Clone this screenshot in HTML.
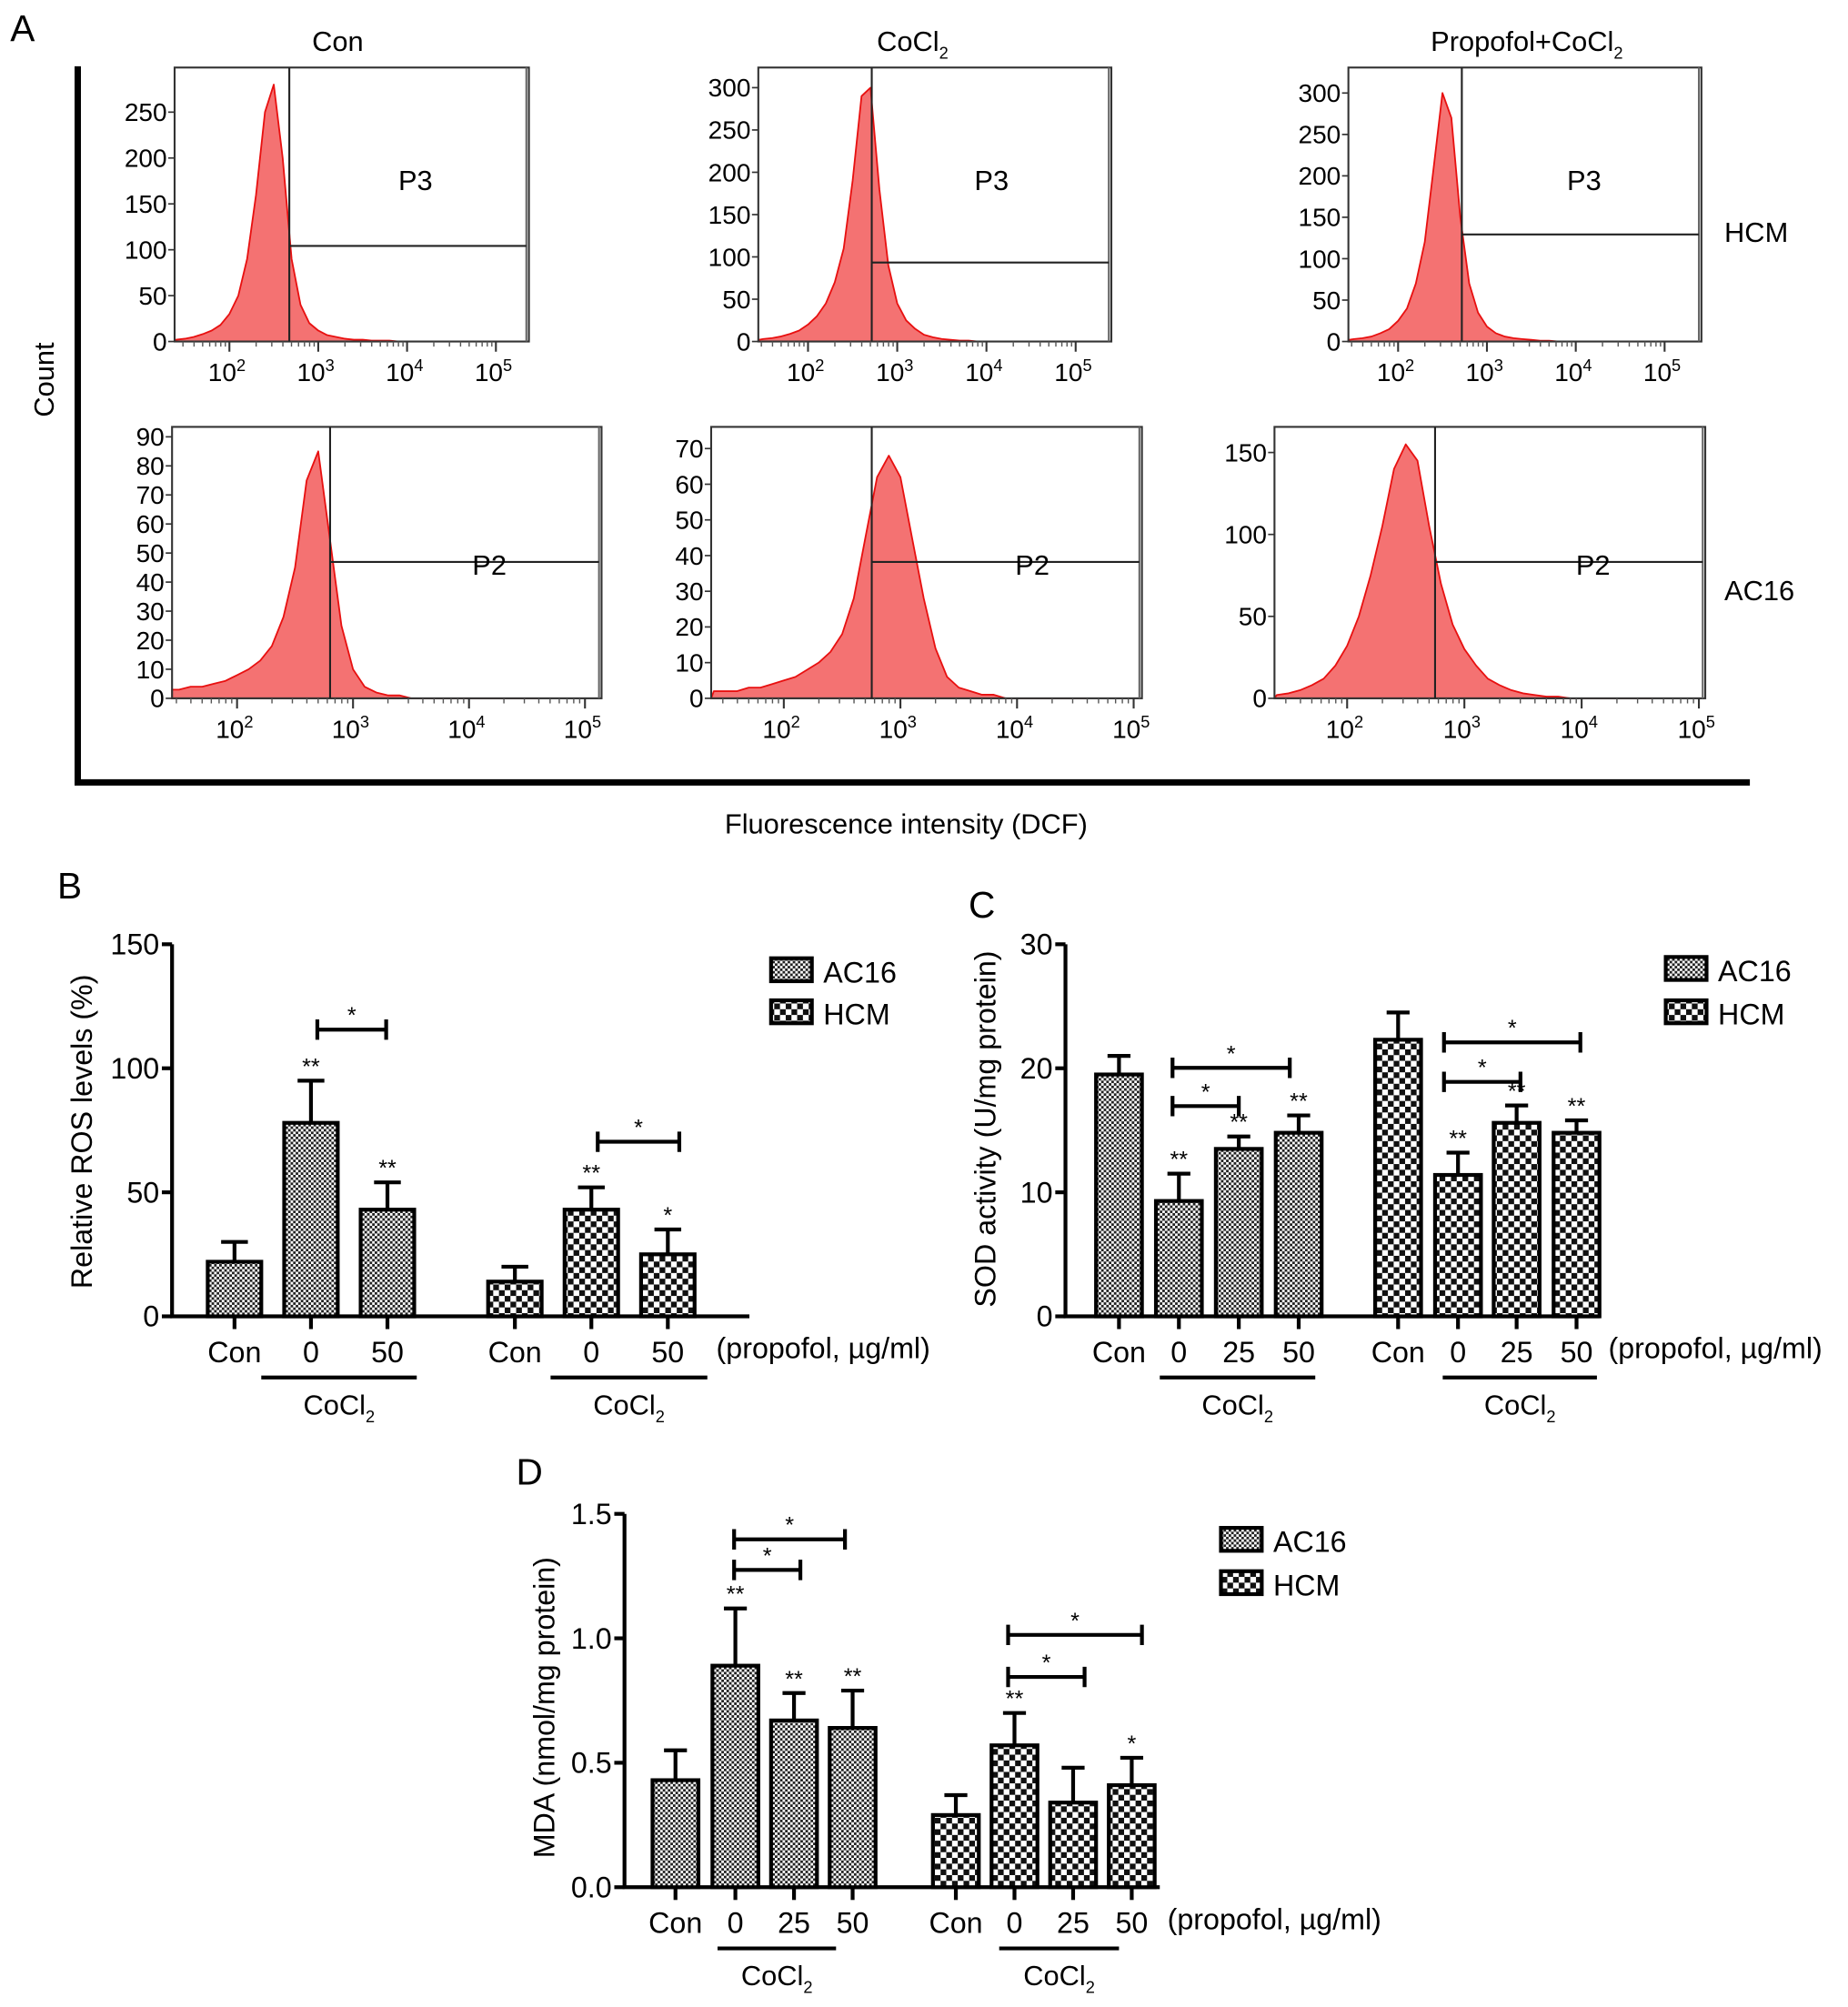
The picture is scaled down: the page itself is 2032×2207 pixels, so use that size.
<!DOCTYPE html>
<html><head><meta charset="utf-8">
<style>
html,body{margin:0;padding:0;background:#fff;}
svg{display:block;font-family:"Liberation Sans",Arial,sans-serif;}
</style></head>
<body>
<svg id="fig" width="2032" height="2207" viewBox="0 0 1450 1575" preserveAspectRatio="none" xmlns="http://www.w3.org/2000/svg">
<defs>
<pattern id="pAC" width="4" height="4" patternUnits="userSpaceOnUse"><rect width="4" height="4" fill="#fff"/><rect width="2" height="2" fill="#222"/><rect x="2" y="2" width="2" height="2" fill="#222"/></pattern>
<pattern id="pHC" width="9" height="9" patternUnits="userSpaceOnUse"><rect width="9" height="9" fill="#fff"/><rect width="4.5" height="4.5" fill="#111"/><rect x="4.5" y="4.5" width="4.5" height="4.5" fill="#111"/></pattern>
</defs>
<g id="root"></g>
</svg>
<script>
// ---------- Histogram data (panel A) ----------
const logBins = [1.4,1.5,1.6,1.7,1.8,1.9,2.0,2.1,2.2,2.3,2.4,2.5,2.6,2.7,2.8,2.9,3.0,3.1,3.2,3.3,3.4,3.5,3.6,3.7,3.8,3.9,4.0];
const countsConHCM   = [2,3,5,8,12,18,30,50,90,160,250,280,200,90,40,20,12,7,5,3,2,2,1,1,1,0,0];
const countsCoHCM    = [2,3,4,6,9,13,20,30,45,70,110,190,290,300,180,90,45,25,15,8,5,3,2,1,1,0,0];
const countsPropHCM  = [2,3,4,6,10,15,25,40,70,120,210,300,270,150,70,35,18,10,6,4,3,2,1,1,0,0,0];
const countsConAC16  = [3,3,4,4,5,6,8,10,13,18,28,45,75,85,55,25,10,4,2,1,1,0,0,0,0,0,0];
const countsCoAC16   = [2,2,2,3,3,4,5,6,8,10,13,18,28,45,62,68,62,45,28,14,6,3,2,1,1,0,0];
const countsPropAC16 = [2,3,5,8,12,20,32,50,75,105,140,155,145,105,70,45,30,20,12,8,5,3,2,1,1,0,0];
const yTicksConHCM = [0,50,100,150,200,250];
const yTicksHCM300 = [0,50,100,150,200,250,300];
const yTicksConAC16 = [0,10,20,30,40,50,60,70,80,90];
const yTicksCoAC16 = [0,10,20,30,40,50,60,70];
const yTicksPropAC16 = [0,50,100,150];
const decadeTicks = [2,3,4,5];

// ---------- Bar data ----------
const groups = ["AC16","HCM"];
const bCats = ["Con","0","50"];
const bAC16 = [22,78,43]; const bAC16Err = [30,95,54];
const bHCM = [14,43,25];  const bHCMErr = [20,52,35];
const bTicks = [0,50,100,150];
const cCats = ["Con","0","25","50"];
const cAC16 = [19.5,9.3,13.5,14.8]; const cAC16Err = [21,11.5,14.5,16.2];
const cHCM = [22.3,11.4,15.6,14.8];  const cHCMErr = [24.5,13.2,17,15.8];
const cTicks = [0,10,20,30];
const dCats = ["Con","0","25","50"];
const dAC16 = [0.43,0.89,0.67,0.64]; const dAC16Err = [0.55,1.12,0.78,0.79];
const dHCM = [0.29,0.57,0.34,0.41];  const dHCMErr = [0.37,0.70,0.48,0.52];
const dTicks = ["0.0","0.5","1.0","1.5"];

const NS="http://www.w3.org/2000/svg";
const root=document.getElementById('root');
function mk(tag,attrs,parent,txt){const e=document.createElementNS(NS,tag);for(const k in attrs)e.setAttribute(k,attrs[k]);if(txt!==undefined)e.textContent=txt;(parent||root).appendChild(e);return e;}

// ---------- Panel A frame ----------
let t;
t=mk('text',{x:8,y:32,'font-size':29},root,'A');


let l=mk('path',{d:'M61 52 V614 H1373',stroke:'#000','stroke-width':5,fill:'none'});


t=mk('text',{x:265,y:40,'font-size':22,'text-anchor':'middle'},root,'Con');


t=mk('text',{x:716,y:40,'font-size':22,'text-anchor':'middle'},root);
t.innerHTML='CoCl<tspan font-size="13" dy="6">2</tspan>';


t=mk('text',{x:1198,y:40,'font-size':22,'text-anchor':'middle'},root);
t.innerHTML='Propofol+CoCl<tspan font-size="13" dy="6">2</tspan>';


t=mk('text',{x:0,y:0,'font-size':22,'text-anchor':'middle',transform:'translate(42,298) rotate(-90)'},root,'Count');


t=mk('text',{x:711,y:654,'font-size':22,'text-anchor':'middle'},root,'Fluorescence intensity (DCF)');


t=mk('text',{x:1353,y:190,'font-size':22},root,'HCM');


t=mk('text',{x:1353,y:471,'font-size':22},root,'AC16');



function hist(cfg,counts,ticks,name){
  const g=mk('g',{});
  
  
  const x=v=>cfg.x2+(v-2)*cfg.dec;
  const y=v=>cfg.y0-v*cfg.py;
  let d='M'+cfg.L+' '+cfg.y0;
  for(let i=0;i<logBins.length;i++){const xx=Math.max(cfg.L,x(logBins[i]));d+=' L'+xx.toFixed(1)+' '+y(counts[i]).toFixed(1);}
  d+=' L'+x(4.6)+' '+cfg.y0+' Z';
  const p=mk('path',{d:d,fill:'#f47272',stroke:'#e81010','stroke-width':1.3,'stroke-linejoin':'round'},g);
  
  
  const b=mk('rect',{x:cfg.L,y:cfg.T,width:cfg.R-cfg.L,height:cfg.y0-cfg.T,fill:'none',stroke:'#333','stroke-width':1.5},g);
  
  
  mk('line',{x1:cfg.R-2,y1:cfg.T,x2:cfg.R-2,y2:cfg.y0,stroke:'#666','stroke-width':1.5},g);
  ticks.forEach(v=>{
    mk('line',{x1:cfg.L-5,x2:cfg.L,y1:y(v),y2:y(v),stroke:'#333','stroke-width':1.2},g);
    const tt=mk('text',{x:cfg.L-6,y:y(v)+7,'font-size':20,'text-anchor':'end'},g,String(v));
    
    
  });
  decadeTicks.forEach(e=>{
    mk('line',{x1:x(e),x2:x(e),y1:cfg.y0,y2:cfg.y0+8,stroke:'#333','stroke-width':1.5},g);
    for(let k=2;k<10;k++){const xm=x(e-1+Math.log10(k));if(xm>cfg.L)mk('line',{x1:xm,x2:xm,y1:cfg.y0,y2:cfg.y0+4,stroke:'#555','stroke-width':1},g);}
    const tt=mk('text',{x:x(e)-2,y:cfg.y0+31,'font-size':20,'text-anchor':'middle'},g);
    tt.innerHTML='10<tspan font-size="13" dy="-8">'+e+'</tspan>';
    
    
  });
  const gate=mk('path',{d:'M'+cfg.gx+' '+cfg.T+' V'+cfg.y0+' M'+cfg.gx+' '+cfg.gy+' H'+(cfg.R-2),stroke:'#222','stroke-width':1.5,fill:'none'},g);
  
  
  const gl=mk('text',{x:cfg.px,y:cfg.py2,'font-size':22,'text-anchor':'middle'},g,cfg.lab);
  
  
}
hist({L:137,R:415,T:53,y0:268,py:36/50,x2:180,dec:69.7,gx:227,gy:193,px:326,py2:149,lab:'P3'},countsConHCM,yTicksConHCM,'histogram-con-hcm');
hist({L:595,R:872,T:53,y0:268,py:33.2/50,x2:634,dec:70,gx:684,gy:206,px:778,py2:149,lab:'P3'},countsCoHCM,yTicksHCM300,'histogram-cocl2-hcm');
hist({L:1058,R:1335,T:53,y0:268,py:32.5/50,x2:1097,dec:69.7,gx:1147,gy:184,px:1243,py2:149,lab:'P3'},countsPropHCM,yTicksHCM300,'histogram-propofol-hcm');
hist({L:135,R:472,T:335,y0:548,py:22.8/10,x2:186,dec:91,gx:259,gy:441,px:384,py2:451,lab:'P2'},countsConAC16,yTicksConAC16,'histogram-con-ac16');
hist({L:558,R:896,T:335,y0:548,py:28/10,x2:615,dec:91.5,gx:684,gy:441,px:810,py2:451,lab:'P2'},countsCoAC16,yTicksCoAC16,'histogram-cocl2-ac16');
hist({L:1000,R:1338,T:335,y0:548,py:64.3/50,x2:1057,dec:92,gx:1126,gy:441,px:1250,py2:451,lab:'P2'},countsPropAC16,yTicksPropAC16,'histogram-propofol-ac16');

// ---------- Bar charts ----------
function barChart(c){
  const g=mk('g',{});
  
  
  const y=v=>c.y0-v*c.py;
  const pl=mk('text',{x:c.labX,y:c.labY,'font-size':29},g,c.label);
  
  
  mk('path',{d:'M'+c.ax+' '+y(c.ymax)+' V'+c.y0+' H'+c.axEnd,stroke:'#000','stroke-width':3,fill:'none'},g);
  c.ticks.forEach(tv=>{const v=parseFloat(tv);
    mk('line',{x1:c.ax-8,x2:c.ax,y1:y(v),y2:y(v),stroke:'#000','stroke-width':3},g);
    const tt=mk('text',{x:c.ax-10,y:y(v)+8,'font-size':23,'text-anchor':'end'},g,String(tv));
    
    
  });
  const yt=mk('text',{x:0,y:0,'font-size':23,'text-anchor':'middle',transform:'translate('+c.titleX+','+c.titleY+') rotate(-90)'},g,c.title);
  
  
  const sets=[[c.a,c.ae,'url(#pAC)',c.xa],[c.h,c.he,'url(#pHC)',c.xh]];
  sets.forEach((s,si)=>{
    s[0].forEach((v,i)=>{
      const cx=s[3][i];
      const bar=mk('rect',{x:cx-c.bw/2,y:y(v),width:c.bw,height:c.y0-y(v),fill:s[2],stroke:'#000','stroke-width':3},g);
      
      
      const eb=mk('path',{d:'M'+cx+' '+y(v)+' V'+y(s[1][i])+' M'+(cx-c.bw/4)+' '+y(s[1][i])+' H'+(cx+c.bw/4),stroke:'#000','stroke-width':3,fill:'none'},g);
      
      
      mk('line',{x1:cx,x2:cx,y1:c.y0,y2:c.y0+10,stroke:'#000','stroke-width':3},g);
      const tl=mk('text',{x:cx,y:c.y0+36,'font-size':23,'text-anchor':'middle'},g,c.cats[i]);
      
      
      const st=c.stars[si][i];
      if(st){const sx=mk('text',{x:cx,y:y(s[1][i])-5,'font-size':18,'text-anchor':'middle'},g,st);
        
        }
    });
  });
  const pu=mk('text',{x:c.unitX,y:c.y0+33,'font-size':23},g,'(propofol, µg/ml)');
  
  
  c.under.forEach(u=>{
    mk('line',{x1:u[0],x2:u[1],y1:c.y0+48,y2:c.y0+48,stroke:'#000','stroke-width':3},g);
    const ct=mk('text',{x:(u[0]+u[1])/2,y:c.y0+77,'font-size':22,'text-anchor':'middle'},g);
    ct.innerHTML='CoCl<tspan font-size="13" dy="6">2</tspan>';
    
    
  });
  c.brackets.forEach(b=>{
    const br=mk('path',{d:'M'+b[0]+' '+(b[2]-8)+' V'+(b[2]+8)+' M'+b[0]+' '+b[2]+' H'+b[1]+' M'+b[1]+' '+(b[2]-8)+' V'+(b[2]+8),stroke:'#000','stroke-width':3,fill:'none'},g);
    
    
    mk('text',{x:(b[0]+b[1])/2,y:b[2]-5,'font-size':18,'text-anchor':'middle'},g,'*');
  });
  [['url(#pAC)','AC16',0],['url(#pHC)','HCM',1]].forEach(e=>{
    const ly=c.legY+e[2]*c.legDy;
    const lr=mk('rect',{x:c.legX,y:ly,width:32,height:18,fill:e[0],stroke:'#000','stroke-width':3},g);
    
    
    const lt=mk('text',{x:c.legX+41,y:ly+19,'font-size':23},g,e[1]);
    
    
  });
}
barChart({name:'chart-b-ros',label:'B',labX:45,labY:705,ax:135,axEnd:588,y0:1033,py:292/150,ymax:150,ticks:bTicks,
  title:'Relative ROS levels (%)',titleX:72,titleY:888,cats:bCats,a:bAC16,ae:bAC16Err,h:bHCM,he:bHCMErr,
  xa:[184,244,304],xh:[404,464,524],bw:42,stars:[['','**','**'],['','**','*']],unitX:562,
  under:[[205,327],[432,555]],brackets:[[249,303,808],[469,533,896]],legX:605,legY:752,legDy:33});
barChart({name:'chart-c-sod',label:'C',labX:760,labY:720,ax:836,axEnd:1255,y0:1033,py:292/30,ymax:30,ticks:cTicks,
  title:'SOD activity (U/mg protein)',titleX:781,titleY:886,cats:cCats,a:cAC16,ae:cAC16Err,h:cHCM,he:cHCMErr,
  xa:[878,925,972,1019],xh:[1097,1144,1190,1237],bw:36,stars:[['','**','**','**'],['','**','**','**']],unitX:1262,
  under:[[910,1032],[1132,1253]],brackets:[[920,1012,838],[920,972,868],[1133,1240,818],[1133,1193,849]],legX:1307,legY:751,legDy:34});
barChart({name:'chart-d-mda',label:'D',labX:405,labY:1165,ax:490,axEnd:910,y0:1481,py:293/1.5,ymax:1.5,ticks:dTicks,
  title:'MDA (nmol/mg protein)',titleX:435,titleY:1340,cats:dCats,a:dAC16,ae:dAC16Err,h:dHCM,he:dHCMErr,
  xa:[530,577,623,669],xh:[750,796,842,888],bw:36,stars:[['','**','**','**'],['','**','','*']],unitX:916,
  under:[[563,656],[784,878]],brackets:[[576,663,1208],[576,628,1232],[791,896,1283],[791,851,1316]],legX:958,legY:1199,legDy:34});
</script>
</body></html>
